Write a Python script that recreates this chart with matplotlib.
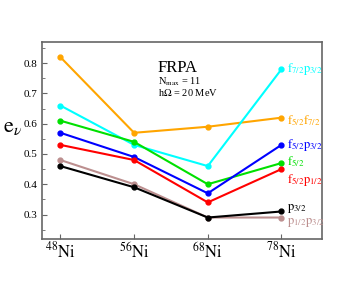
import numpy as np
import matplotlib.pyplot as plt

plt.rcParams['font.family'] = 'Liberation Serif'
plt.rcParams['mathtext.fontset'] = 'stix'

# Datos
nuclei = ['48', '56', '68', '78']
f52f72 = [0.82, 0.57, 0.59, 0.62]
f72p32 = [0.66, 0.53, 0.46, 0.78]
f52 = [0.61, 0.54, 0.40, 0.47]
f52p32 = [0.57, 0.49, 0.37, 0.53]
f52p12 = [0.53, 0.48, 0.34, 0.45]
p12p32 = [0.48, 0.40, 0.29, 0.29]
p32 = [0.46, 0.39, 0.29, 0.31]

series = [
    (f52f72, 'orange', r'$\mathrm{f}_{5/2}\mathrm{f}_{7/2}$', 0.61),
    (f72p32, 'cyan', r'$\mathrm{f}_{7/2}\mathrm{p}_{3/2}$', 0.78),
    (f52, '#00e000', r'$\mathrm{f}_{5/2}$', 0.475),
    (f52p32, 'blue', r'$\mathrm{f}_{5/2}\mathrm{p}_{3/2}$', 0.53),
    (f52p12, 'red', r'$\mathrm{f}_{5/2}\mathrm{p}_{1/2}$', 0.415),
    (p12p32, '#bc8f8f', r'$\mathrm{p}_{1/2}\mathrm{p}_{3/2}$', 0.272),
    (p32, 'black', r'$\mathrm{p}_{3/2}$', 0.32),
]

fig = plt.figure(figsize=(3.63, 2.81), dpi=100)
ax = fig.add_axes([0.1157, 0.1505, 0.7713, 0.70])
x = np.arange(len(nuclei))

for vals, col, lab, ylab in series:
    ax.plot(x, vals, '-o', color=col, lw=1.5, ms=3.5)
    ax.text(3.07, ylab, lab, color=col, fontsize=9, va='center', ha='left')

ax.set_xlim(-0.25, 3.55)
ax.set_ylim(0.22, 0.87)
ax.set_xticks(x)
ax.set_xticklabels([r'$^{%s}\mathrm{Ni}$' % n for n in nuclei], fontsize=12)
ax.set_yticks([0.3, 0.4, 0.5, 0.6, 0.7, 0.8])
ax.set_yticks(np.arange(0.25, 0.86, 0.05), minor=True)
ax.tick_params(axis='both', direction='in', labelsize=8, color='#666666')
ax.tick_params(axis='x', labelsize=12, pad=2)
ax.tick_params(axis='y', which='minor', direction='in', length=2, color='#666666')
ax.tick_params(axis='x', which='minor', bottom=False)
for s in ax.spines.values():
    s.set_color('#666666')
    s.set_linewidth(1.2)

ax.set_ylabel(r'$\mathrm{e}_{\nu}$', fontsize=16, rotation=0, va='center', ha='center')
ax.yaxis.set_label_coords(-0.105, 0.565)

ax.text(1.32, 0.770, 'FRPA', fontsize=12)
ax.text(1.32, 0.728, r'N$_{\rm max}$ = 11', fontsize=7.5)
ax.text(1.32, 0.690, r'h$\Omega$ = 20 MeV', fontsize=7.5)

plt.savefig('out.png', dpi=100)
